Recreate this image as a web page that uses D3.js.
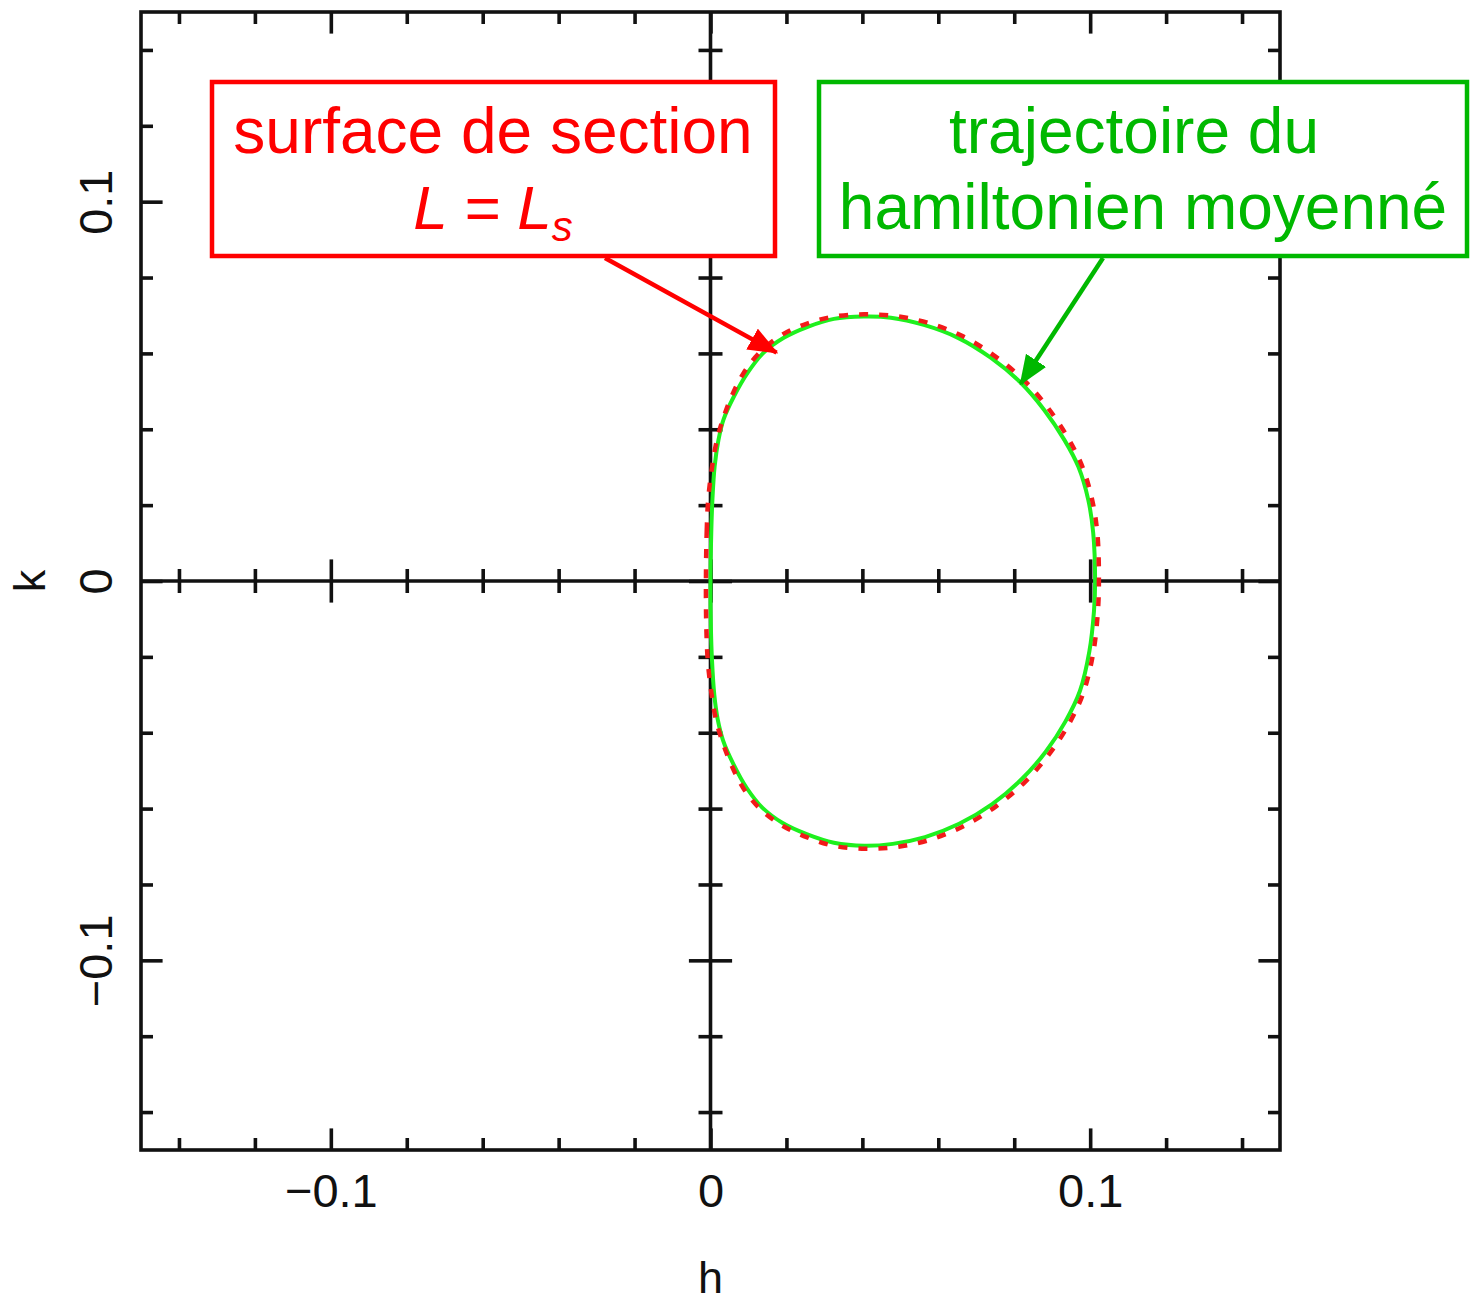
<!DOCTYPE html>
<html lang="fr">
<head>
  <meta charset="utf-8">
  <title>Surface de section</title>
  <script src="https://d3js.org/d3.v7.min.js"></script>
  <style>
    body { margin: 0; background: #fff; }
    text { font-family: "Liberation Sans", Arial, sans-serif; }
  </style>
</head>
<body>
<script>
// trajectoire du hamiltonien moyenne (vert, continu)
var trajH = [0.0000, 0.0002, 0.0005, 0.0011, 0.0021, 0.0034, 0.0061, 0.0098, 0.0140, 0.0193, 0.0256, 0.0325,
             0.0404, 0.0475, 0.0562, 0.0652, 0.0739, 0.0818, 0.0879, 0.0932, 0.0969, 0.0995, 0.1008, 0.1013,
             0.1010, 0.0998, 0.0973, 0.0935, 0.0883, 0.0820, 0.0742, 0.0655, 0.0565, 0.0480, 0.0405, 0.0325,
             0.0255, 0.0190, 0.0137, 0.0095, 0.0060, 0.0033, 0.0019, 0.0010, 0.0004, 0.0001];
var trajK = [0.0000, 0.0127, 0.0214, 0.0303, 0.0372, 0.0425, 0.0485, 0.0549, 0.0602, 0.0641, 0.0670, 0.0691,
             0.0697, 0.0694, 0.0675, 0.0641, 0.0588, 0.0522, 0.0451, 0.0372, 0.0301, 0.0214, 0.0127, 0.0000,
             -0.0080, -0.0185, -0.0290, -0.0370, -0.0450, -0.0522, -0.0588, -0.0640, -0.0675, -0.0693, -0.0698, -0.0690,
             -0.0668, -0.0638, -0.0598, -0.0545, -0.0482, -0.0420, -0.0365, -0.0300, -0.0210, -0.0120];

// surface de section L = Ls (rouge, tirets)
var sectH = [-0.0012, -0.0010, -0.0006, 0.0004, 0.0017, 0.0034, 0.0057, 0.0087, 0.0132, 0.0190, 0.0258, 0.0325,
             0.0405, 0.0490, 0.0575, 0.0665, 0.0750, 0.0828, 0.0890, 0.0943, 0.0980, 0.1005, 0.1019, 0.1023,
             0.1020, 0.1008, 0.0982, 0.0945, 0.0893, 0.0830, 0.0752, 0.0665, 0.0575, 0.0490, 0.0408, 0.0325,
             0.0255, 0.0188, 0.0132, 0.0087, 0.0055, 0.0032, 0.0015, 0.0003, -0.0007, -0.0011];
var sectK = [0.0000, 0.0130, 0.0215, 0.0300, 0.0372, 0.0430, 0.0490, 0.0548, 0.0605, 0.0650, 0.0680, 0.0697,
             0.0703, 0.0698, 0.0680, 0.0645, 0.0592, 0.0527, 0.0455, 0.0375, 0.0300, 0.0215, 0.0125, 0.0000,
             -0.0085, -0.0190, -0.0295, -0.0375, -0.0455, -0.0528, -0.0594, -0.0647, -0.0683, -0.0701, -0.0706, -0.0698,
             -0.0676, -0.0644, -0.0602, -0.0547, -0.0485, -0.0425, -0.0368, -0.0300, -0.0212, -0.0122];

var minorTicks = [-0.14, -0.12, -0.08, -0.06, -0.04, -0.02, 0.02, 0.04, 0.06, 0.08, 0.12, 0.14];
var majorTicks = [-0.1, 0, 0.1];
var tickLabels = ["\u22120.1", "0", "0.1"];

var width = 1470, height = 1302;
var svg = d3.select("body").append("svg")
    .attr("width", width)
    .attr("height", height);

var x = d3.scaleLinear().domain([-0.15, 0.15]).range([141, 1280]);
var y = d3.scaleLinear().domain([-0.15, 0.15]).range([1150, 12]);

var ink = "#111", lw = 3.6;

function styleAxis(g) {
  g.select(".domain").remove();
  g.selectAll("line").attr("stroke", ink).attr("stroke-width", lw);
  g.selectAll("text").remove();
}

// ticks on the four sides of the box and on both center axes
function addTicks(axisFn, scale, tx, ty, size) {
  svg.append("g").attr("transform", "translate(" + tx + "," + ty + ")")
    .call(axisFn(scale).tickValues(minorTicks).tickSize(size).tickSizeOuter(0)).call(styleAxis);
  svg.append("g").attr("transform", "translate(" + tx + "," + ty + ")")
    .call(axisFn(scale).tickValues(majorTicks).tickSize(size * 1.8).tickSizeOuter(0)).call(styleAxis);
}
addTicks(d3.axisTop, x, 0, 1150, 12);
addTicks(d3.axisBottom, x, 0, 12, 12);
addTicks(d3.axisRight, y, 141, 0, 12);
addTicks(d3.axisLeft, y, 1280, 0, 12);
addTicks(d3.axisTop, x, 0, y(0), 12);
addTicks(d3.axisBottom, x, 0, y(0), 12);
addTicks(d3.axisLeft, y, x(0), 0, 12);
addTicks(d3.axisRight, y, x(0), 0, 12);

// axis lines through zero
svg.append("line").attr("x1", x(-0.15)).attr("x2", x(0.15)).attr("y1", y(0)).attr("y2", y(0))
  .attr("stroke", ink).attr("stroke-width", lw);
svg.append("line").attr("x1", x(0)).attr("x2", x(0)).attr("y1", y(-0.15)).attr("y2", y(0.15))
  .attr("stroke", ink).attr("stroke-width", lw);

// frame
svg.append("rect").attr("x", x(-0.15)).attr("y", y(0.15))
  .attr("width", x(0.15) - x(-0.15)).attr("height", y(-0.15) - y(0.15))
  .attr("fill", "none").attr("stroke", ink).attr("stroke-width", lw);

// tick labels
var xLab = svg.append("g").attr("transform", "translate(0,1150)")
  .call(d3.axisBottom(x).tickValues(majorTicks).tickSize(0).tickPadding(0)
    .tickFormat(function(d, i) { return tickLabels[i]; }));
xLab.select(".domain").remove();
xLab.selectAll("text").attr("y", 57).attr("dy", 0)
  .attr("font-size", 47).attr("fill", ink)
  .style("font-family", "'Liberation Sans', Arial, sans-serif");

var yLab = svg.append("g").attr("transform", "translate(141,0)")
  .call(d3.axisLeft(y).tickValues(majorTicks).tickSize(0)
    .tickFormat(function(d, i) { return tickLabels[i]; }));
yLab.select(".domain").remove();
yLab.selectAll("text").attr("transform", "rotate(-90)")
  .attr("x", 0).attr("y", -29).attr("dy", 0)
  .attr("text-anchor", "middle")
  .attr("font-size", 47).attr("fill", ink)
  .style("font-family", "'Liberation Sans', Arial, sans-serif");

// axis titles
svg.append("text").attr("x", x(0)).attr("y", 1293).attr("text-anchor", "middle")
  .attr("font-size", 45).attr("fill", ink).text("h");
svg.append("text").attr("transform", "translate(45," + y(0) + ") rotate(-90)")
  .attr("text-anchor", "middle").attr("font-size", 45).attr("fill", ink).text("k");

// curves
var line = d3.line().x(function(d) { return x(d[0]); }).y(function(d) { return y(d[1]); })
  .curve(d3.curveCatmullRomClosed);
var traj = trajH.map(function(h, i) { return [h, trajK[i]]; });
var sect = sectH.map(function(h, i) { return [h, sectK[i]]; });

svg.append("path").datum(traj).attr("d", line)
  .attr("fill", "none").attr("stroke", "#1ef01e").attr("stroke-width", 4);
svg.append("path").datum(sect).attr("d", line)
  .attr("fill", "none").attr("stroke", "#f21a1a").attr("stroke-width", 4.5)
  .attr("stroke-dasharray", "9,11");

// annotations
var red = "#ff0000", green = "#00b800";
var defs = svg.append("defs");
[["arrRed", red], ["arrGreen", green]].forEach(function(m) {
  defs.append("marker").attr("id", m[0])
    .attr("markerUnits", "userSpaceOnUse")
    .attr("viewBox", "0 0 30 24").attr("refX", 28).attr("refY", 12)
    .attr("markerWidth", 30).attr("markerHeight", 24).attr("orient", "auto")
    .append("path").attr("d", "M0,0 L30,12 L0,24 Z").attr("fill", m[1]);
});

svg.append("line").attr("x1", 605).attr("y1", 258).attr("x2", x(0.0174)).attr("y2", y(0.0602))
  .attr("stroke", red).attr("stroke-width", 4.5).attr("marker-end", "url(#arrRed)");
svg.append("line").attr("x1", 1103).attr("y1", 258).attr("x2", x(0.0817)).attr("y2", y(0.0520))
  .attr("stroke", green).attr("stroke-width", 4.5).attr("marker-end", "url(#arrGreen)");

svg.append("rect").attr("x", 212).attr("y", 82).attr("width", 563).attr("height", 174)
  .attr("fill", "#fff").attr("stroke", red).attr("stroke-width", 4.5);
svg.append("rect").attr("x", 819).attr("y", 82).attr("width", 648).attr("height", 174)
  .attr("fill", "#fff").attr("stroke", green).attr("stroke-width", 4.5);

svg.append("text").attr("x", 493).attr("y", 153).attr("text-anchor", "middle")
  .attr("font-size", 64).attr("fill", red).text("surface de section");
var eq = svg.append("text").attr("x", 493).attr("y", 229).attr("text-anchor", "middle")
  .attr("font-size", 62).attr("fill", red).attr("font-style", "italic");
eq.append("tspan").text("L = L");
eq.append("tspan").attr("font-size", 42).attr("dy", 12).text("s");

svg.append("text").attr("x", 1134).attr("y", 153).attr("text-anchor", "middle")
  .attr("font-size", 64).attr("fill", green).text("trajectoire du");
svg.append("text").attr("x", 1143).attr("y", 229).attr("text-anchor", "middle")
  .attr("font-size", 64).attr("fill", green).text("hamiltonien moyenné");
</script>
</body>
</html>
